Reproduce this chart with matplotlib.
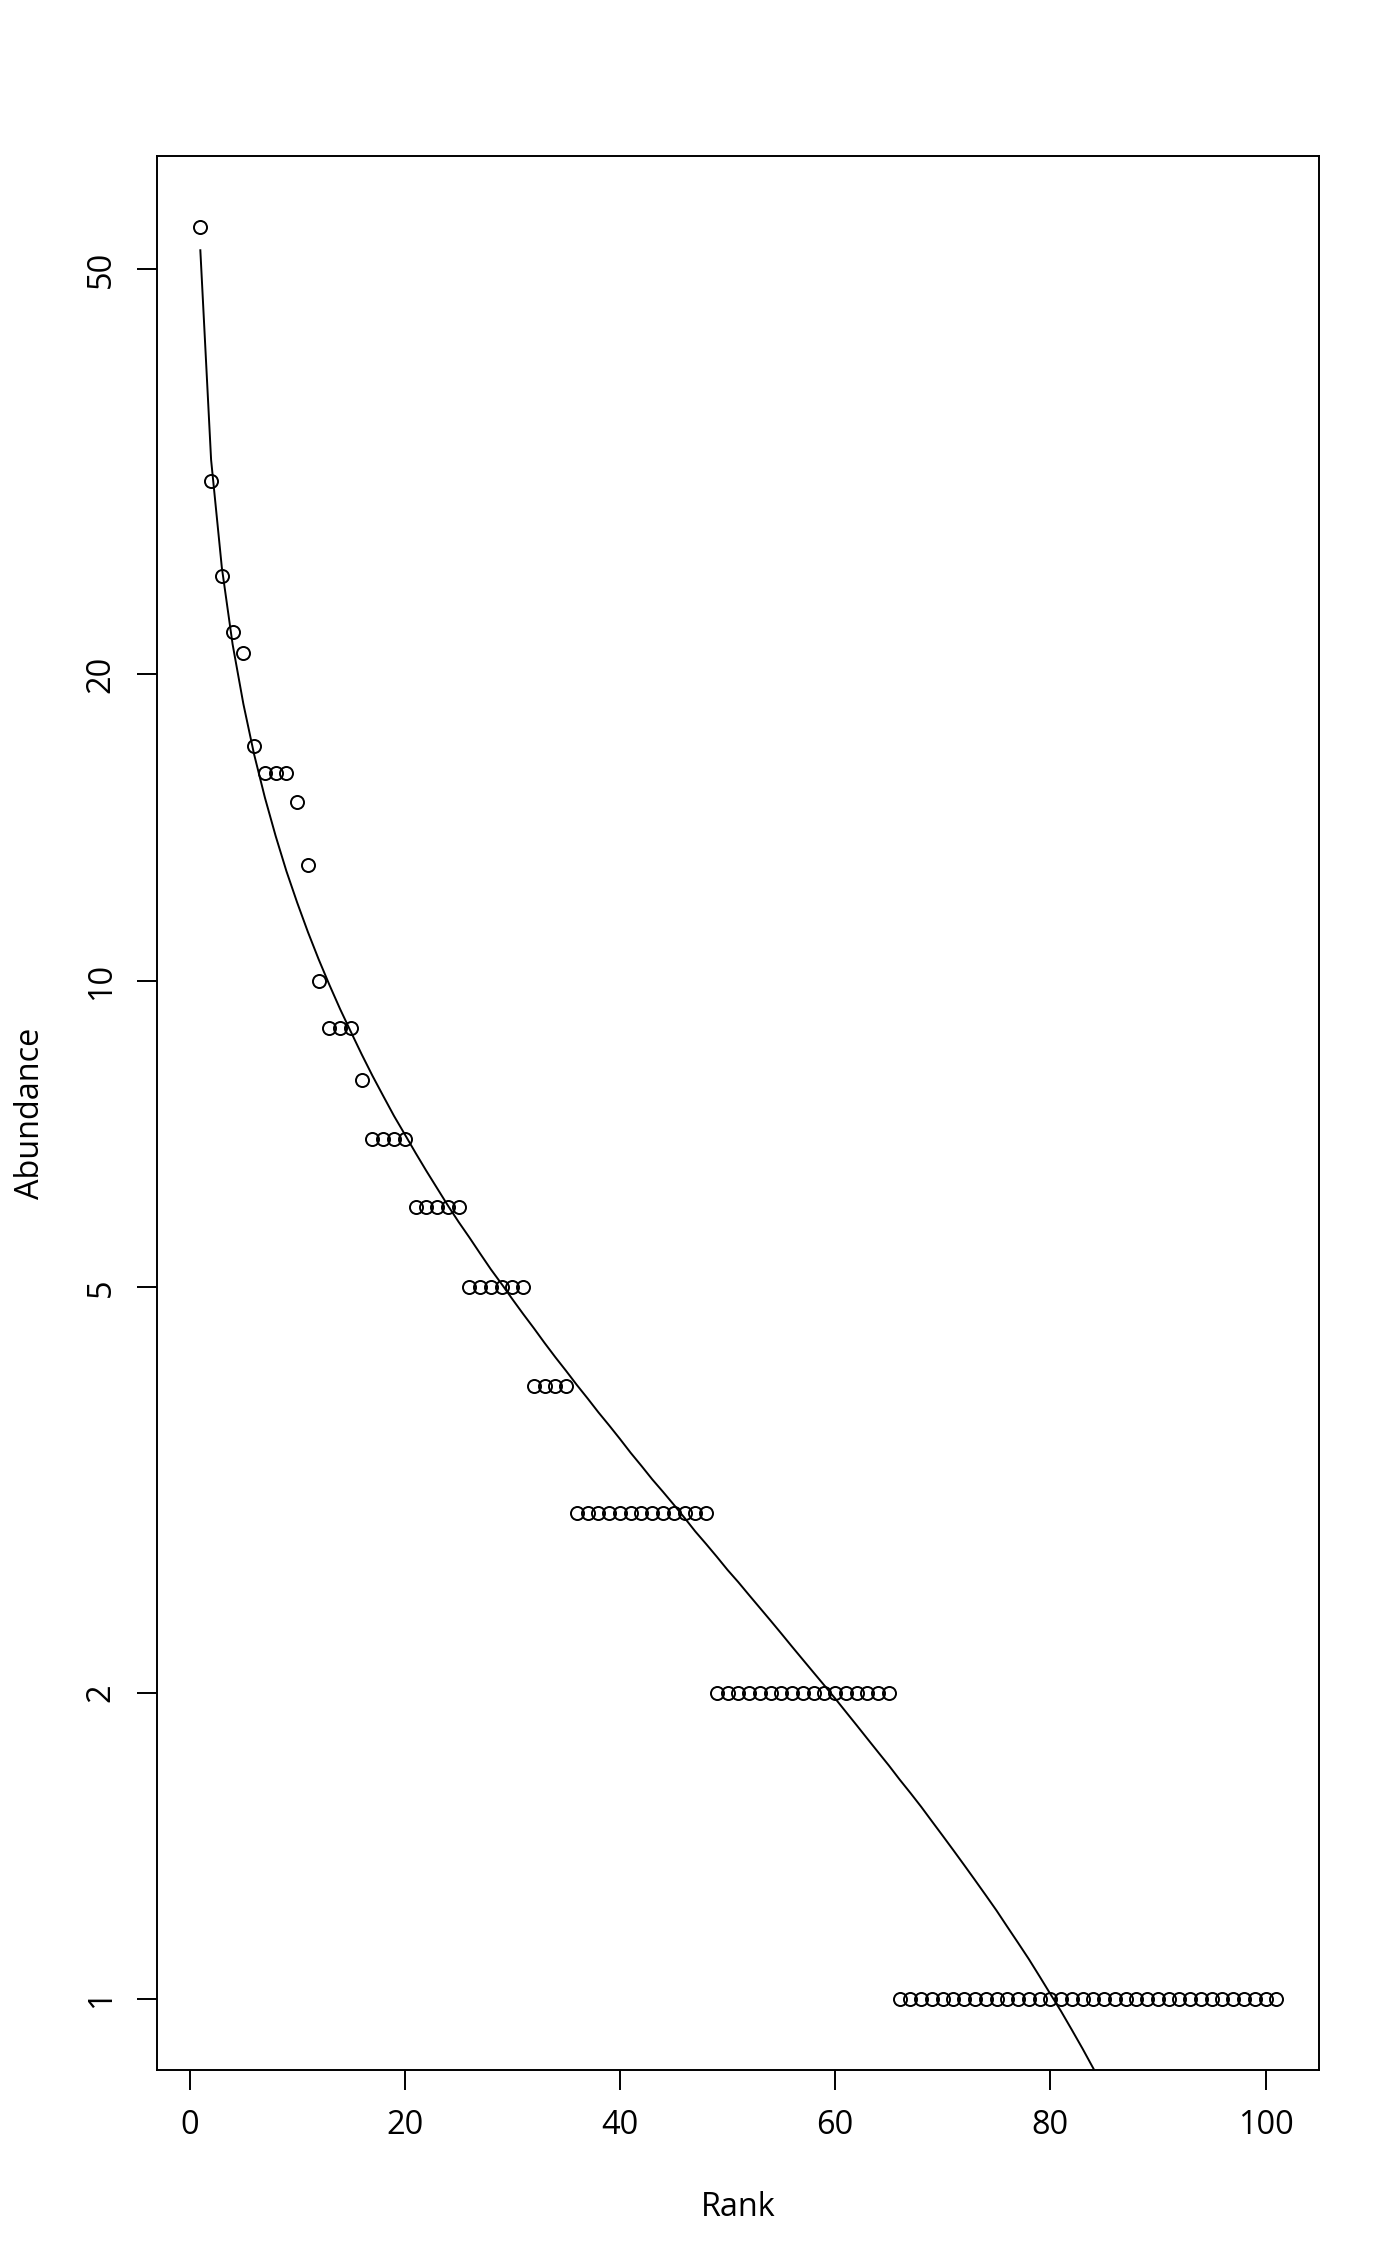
import matplotlib
matplotlib.use("Agg")
import matplotlib.pyplot as plt
from matplotlib.ticker import FixedLocator, NullLocator, FixedFormatter

plt.rcParams['font.family'] = ['Open Sans', 'DejaVu Sans']

# Observed abundances by rank (1..101)
abundance = ([55, 31, 25, 22, 21, 17, 16, 16, 16, 15, 13, 10, 9, 9, 9, 8]
             + [7] * 4 + [6] * 5 + [5] * 6 + [4] * 4 + [3] * 13 + [2] * 17 + [1] * 36)
rank = list(range(1, len(abundance) + 1))

# Fitted (lognormal) curve values, ranks 1..86
fitted = [52.2, 32.5, 25.46, 21.41, 18.71, 16.69, 15.14, 13.88, 12.82, 11.94,
          11.17, 10.50, 9.91, 9.38, 8.91, 8.47, 8.07, 7.71, 7.37, 7.07,
          6.78, 6.51, 6.26, 6.02, 5.80, 5.60, 5.40, 5.21, 5.04, 4.87,
          4.71, 4.56, 4.41, 4.27, 4.14, 4.01, 3.89, 3.77, 3.66, 3.55,
          3.44, 3.34, 3.24, 3.15, 3.06, 2.97, 2.88, 2.80, 2.72, 2.64,
          2.568, 2.494, 2.423, 2.354, 2.286, 2.219, 2.155, 2.093, 2.033, 1.974,
          1.915, 1.858, 1.802, 1.748, 1.696, 1.643, 1.594, 1.545, 1.495, 1.447,
          1.400, 1.354, 1.309, 1.265, 1.222, 1.178, 1.136, 1.095, 1.053, 1.012,
          0.973, 0.933, 0.894, 0.855, 0.816, 0.778]
fit_rank = list(range(1, len(fitted) + 1))

x_ticks = [0, 20, 40, 60, 80, 100]
y_ticks = [1, 2, 5, 10, 20, 50]

W, H = 1400, 2266
dpi = 100
fig = plt.figure(figsize=(W / dpi, H / dpi), dpi=dpi)
left, right, top, bottom = 157.3, 1319.3, 156.0, 2070.0
ax = fig.add_axes([left / W, 1 - bottom / H, (right - left) / W, (bottom - top) / H])

lw = 1.4
ax.plot(rank, abundance, linestyle='none', marker='o', markersize=9.4,
        markerfacecolor='none', markeredgecolor='black', markeredgewidth=lw)
ax.plot(fit_rank, fitted, color='black', linewidth=lw)

ax.set_yscale('log')
ax.set_xlim(-3, 105)
ax.set_ylim(0.852, 64.6)

ax.xaxis.set_major_locator(FixedLocator(x_ticks))
ax.yaxis.set_major_locator(FixedLocator(y_ticks))
ax.yaxis.set_major_formatter(FixedFormatter([str(v) for v in y_ticks]))
ax.yaxis.set_minor_locator(NullLocator())

for s in ax.spines.values():
    s.set_linewidth(lw)
    s.set_color('black')

ax.tick_params(axis='both', which='major', direction='out', length=14.4, width=lw,
               labelsize=23.4, colors='black', pad=14)
for lab in ax.get_yticklabels():
    lab.set_rotation(90)
    lab.set_va('center')

ax.set_xlabel('Rank', fontsize=23.4, labelpad=35)
ax.set_ylabel('Abundance', fontsize=23.4, labelpad=27)

fig.savefig('out.png', dpi=dpi, facecolor='white')
